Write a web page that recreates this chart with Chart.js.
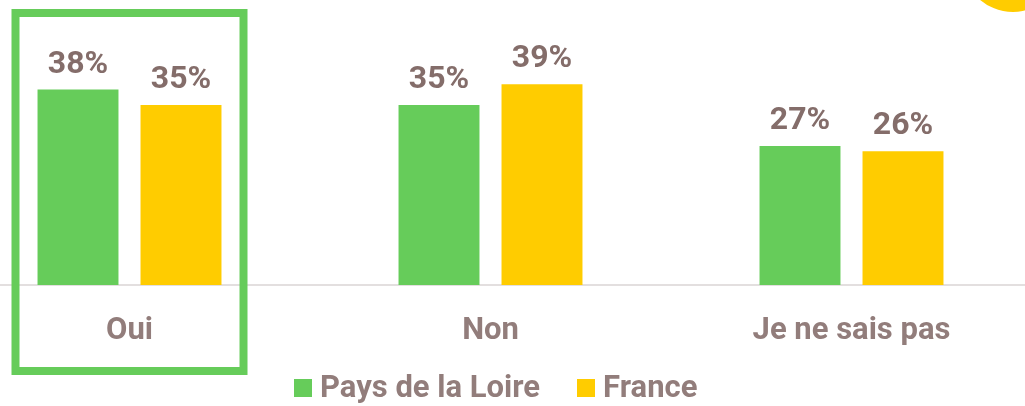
<!DOCTYPE html>
<html>
<head>
<meta charset="utf-8">
<script src="https://cdn.jsdelivr.net/npm/chart.js@4/dist/chart.umd.min.js"></script>
<style>
    html, body { margin: 0; padding: 0; background: #fff; }
    #page { position: relative; width: 1025px; height: 406px; overflow: hidden; }
    #wrap { position: absolute; left: -51px; top: 0; width: 1083px; height: 406px; }
    #legend { position: absolute; left: 294px; top: 371px; font-family: Roboto, sans-serif; font-weight: 700;
        font-size: 31px; line-height: 32px; color: #927d7b; white-space: nowrap; }
    #legend .item { display: inline-block; margin-right: 37px; }
    #legend .box { display: inline-block; width: 18px; height: 18px; margin-right: 8px; vertical-align: baseline; }
</style>
</head>
<body>
<div id="page">
    <div id="wrap"><canvas id="chart" width="1083" height="406"></canvas></div>
    <div id="legend"></div>
</div>
<script>
    var categories = ['Oui', 'Non', 'Je ne sais pas'];
    var seriesNames = ['Pays de la Loire', 'France'];
    var paysDeLaLoire = [38, 35, 27];
    var france = [35, 39, 26];
    var colors = ['#66cc5a', '#ffcc00'];

    var labelColor = '#846d6a';
    var textColor = '#927d7b';

    // percent labels above each bar
    var valueLabels = {
        id: 'valueLabels',
        afterDatasetsDraw: function (chart) {
            var ctx = chart.ctx;
            ctx.save();
            ctx.font = '700 32px Roboto';
            ctx.fillStyle = labelColor;
            ctx.textAlign = 'center';
            ctx.textBaseline = 'alphabetic';
            chart.data.datasets.forEach(function (ds, i) {
                chart.getDatasetMeta(i).data.forEach(function (bar, j) {
                    ctx.fillText(ds.data[j] + '%', bar.x, bar.y - 17);
                });
            });
            ctx.restore();
        }
    };

    // green highlight frame around "Oui" and the yellow corner disc
    var decorations = {
        id: 'decorations',
        afterDraw: function (chart) {
            var ctx = chart.ctx;
            var cx = chart.scales.x.getPixelForValue(0);
            ctx.save();
            ctx.strokeStyle = '#66cc5a';
            ctx.lineWidth = 8;
            ctx.strokeRect(cx - 114, 13, 228, 358);
            ctx.fillStyle = '#ffcc00';
            ctx.beginPath();
            ctx.arc(1064, -39, 51, 0, Math.PI * 2);
            ctx.fill();
            ctx.restore();
        }
    };

    new Chart(document.getElementById('chart'), {
        type: 'bar',
        data: {
            labels: categories,
            datasets: [
                { label: seriesNames[0], data: paysDeLaLoire, backgroundColor: colors[0] },
                { label: seriesNames[1], data: france, backgroundColor: colors[1] }
            ]
        },
        options: {
            responsive: false,
            animation: false,
            devicePixelRatio: 1,
            categoryPercentage: 0.5706,
            barPercentage: 0.786,
            layout: { padding: 0 },
            plugins: {
                legend: { display: false },
                tooltip: { enabled: false }
            },
            scales: {
                y: { display: false, min: 0, max: 55.4 },
                x: {
                    grid: { display: false, drawTicks: false },
                    border: { display: true, color: '#e3dfdf', width: 2 },
                    ticks: {
                        padding: 28,
                        color: textColor,
                        font: { family: 'Roboto', weight: '700', size: 31 }
                    },
                    afterFit: function (scale) { scale.height = 121; }
                }
            }
        },
        plugins: [valueLabels, decorations]
    });

    var legend = document.getElementById('legend');
    seriesNames.forEach(function (name, i) {
        var item = document.createElement('span');
        item.className = 'item';
        item.innerHTML = '<span class="box" style="background:' + colors[i] + '"></span>' + name;
        legend.appendChild(item);
    });
</script>
</body>
</html>
